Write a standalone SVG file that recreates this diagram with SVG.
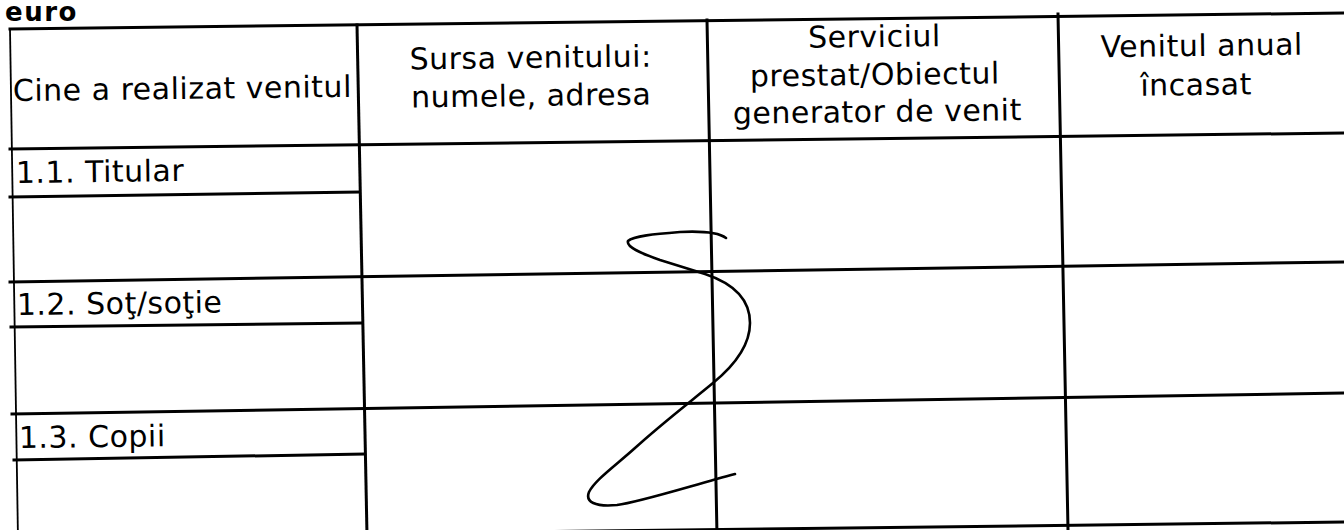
<svg xmlns="http://www.w3.org/2000/svg" width="1344" height="530" viewBox="0 0 1344 530">
<style>
.t{font-family:"DejaVu Sans","Liberation Sans",sans-serif;font-size:30px;fill:#000;letter-spacing:0.5px}
.b{font-weight:bold;font-size:26px;letter-spacing:1.5px}
.m{text-anchor:middle}
.g{stroke:#000;stroke-width:3;fill:none;stroke-linecap:square}
.thin{stroke-width:1.8}
.sig{stroke:#000;stroke-width:2.6;fill:none;stroke-linecap:round;stroke-linejoin:round}
</style>
<rect width="1344" height="530" fill="#fff"/>
<g id="title"><text class="t b" x="5" y="21">euro</text></g>
<g id="connectors">
<line class="g thin" x1="10" y1="29" x2="18" y2="540"/>
<line class="g" x1="357" y1="25" x2="367" y2="535"/>
<line class="g" x1="707" y1="20" x2="717" y2="535"/>
<line class="g" x1="1058" y1="14" x2="1068" y2="530"/>
<line class="g" x1="10" y1="29" x2="1344" y2="13"/>
<line class="g" x1="10" y1="149" x2="1344" y2="133"/>
<line class="g" x1="10" y1="282" x2="1344" y2="262"/>
<line class="g" x1="12" y1="414" x2="1344" y2="393"/>
<line class="g" x1="14" y1="538" x2="1344" y2="522"/>
<line class="g" x1="10" y1="197" x2="359" y2="192"/>
<line class="g" x1="11" y1="327" x2="361" y2="323"/>
<line class="g" x1="14" y1="460" x2="364" y2="454"/>
</g>
<g id="h1"><text class="t" x="13" y="101" transform="rotate(-0.7 13 101)">Cine a realizat venitul</text></g>
<g id="h2" transform="rotate(-0.7 531 88)"><text class="t m" x="531" y="68">Sursa venitului:</text><text class="t m" x="531" y="106">numele, adresa</text></g>
<g id="h3" transform="rotate(-0.7 874 85)"><text class="t m" x="875" y="47">Serviciul</text><text class="t m" x="875" y="85">prestat/Obiectul</text><text class="t m" x="877" y="122">generator de venit</text></g>
<g id="h4" transform="rotate(-0.7 1200 75)"><text class="t m" x="1202" y="56">Venitul anual</text><text class="t m" x="1196" y="95">încasat</text></g>
<g id="r1"><text class="t" x="16" y="183" transform="rotate(-0.7 16 183)">1.1. Titular</text></g>
<g id="r2"><text class="t" x="17" y="315" transform="rotate(-0.7 17 315)">1.2. Soţ/soţie</text></g>
<g id="r3"><text class="t" x="19" y="448" transform="rotate(-0.7 19 448)">1.3. Copii</text></g>
<g id="signature">
<path class="sig" d="M726,238 C718,232 700,231 680,232 C655,234 633,236 628,241 C626,247 640,253 660,260 L705,274 C735,284 750,300 750,323 C750,345 735,365 713,383 C690,402 660,425 635,448 C615,466 595,480 589,492 C585,502 595,507 617,505 C640,502 690,486 735,474"/>
</g>
</svg>
